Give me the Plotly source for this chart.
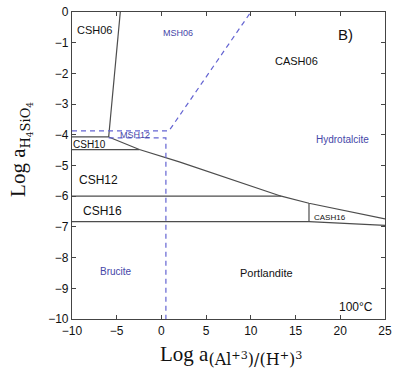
import plotly.graph_objects as go

# Solid phase boundaries (black)
csh06_x = [-4.6, -5.9]
csh06_y = [0.0, -4.07]
csh10_top_x = [-10, -5.9]
csh10_top_y = [-4.07, -4.07]
csh10_bot_x = [-10, -2.47]
csh10_bot_y = [-4.48, -4.48]
cash06_x = [-5.9, -2.47, 2.0, 13.4, 16.5, 25]
cash06_y = [-4.07, -4.48, -4.88, -6.0, -6.23, -6.74]
csh12_bot_x = [-10, 13.4]
csh12_bot_y = [-6.0, -6.0]
csh16_bot_x = [-10, 16.5, 25]
csh16_bot_y = [-6.83, -6.83, -6.95]
cash16_x = [16.5, 16.5]
cash16_y = [-6.23, -6.83]

# Dashed magnesium phase boundaries (blue)
msh06_x = [-10, 0.85, 10.0]
msh06_y = [-3.87, -3.87, 0.0]
msh12_x = [-5.9, 0.5, 0.5]
msh12_y = [-4.1, -4.1, -10.0]

# Field labels
black_labels = ["CSH06", "CASH06", "CSH10", "CSH12", "CSH16", "CASH16", "Portlandite", "100°C", "B)"]
black_lx = [-7.5, 15.1, -8.0, -7.0, -6.6, 18.8, 11.8, 21.8, 20.6]
black_ly = [-0.57, -1.6, -4.3, -5.47, -6.48, -6.68, -8.49, -9.62, -0.74]
black_ls = [11, 11, 10, 12, 12, 8, 11, 12, 15]

blue_labels = ["MSH06", "MSH12", "Hydrotalcite", "Brucite"]
blue_lx = [1.8, -2.9, 20.2, -5.1]
blue_ly = [-0.67, -4.0, -4.14, -8.44]
blue_ls = [9, 9, 10, 10]

x_ticks = [-10, -5, 0, 5, 10, 15, 20, 25]
y_ticks = [0, -1, -2, -3, -4, -5, -6, -7, -8, -9, -10]

LINE = "#4d4d4d"
BLUE_LINE = "#6464d2"
BLUE_TEXT = "#4646a8"

fig = go.Figure()

for xs, ys in [(csh06_x, csh06_y), (csh10_top_x, csh10_top_y), (csh10_bot_x, csh10_bot_y),
               (cash06_x, cash06_y), (csh12_bot_x, csh12_bot_y), (csh16_bot_x, csh16_bot_y),
               (cash16_x, cash16_y)]:
    fig.add_trace(go.Scatter(x=xs, y=ys, mode="lines",
                             line=dict(color=LINE, width=1.2), hoverinfo="skip"))

for xs, ys in [(msh06_x, msh06_y), (msh12_x, msh12_y)]:
    fig.add_trace(go.Scatter(x=xs, y=ys, mode="lines",
                             line=dict(color=BLUE_LINE, width=1.2, dash="5px,4px"),
                             hoverinfo="skip"))

annotations = []
for t, x, y, s in zip(black_labels, black_lx, black_ly, black_ls):
    annotations.append(dict(x=x, y=y, text=t, showarrow=False, xref="x", yref="y",
                            font=dict(family="Liberation Sans, Arial", size=s, color="#111")))
for t, x, y, s in zip(blue_labels, blue_lx, blue_ly, blue_ls):
    annotations.append(dict(x=x, y=y, text=t, showarrow=False, xref="x", yref="y",
                            font=dict(family="Liberation Sans, Arial", size=s, color=BLUE_TEXT)))

# Axis titles
annotations.append(dict(
    x=-0.215, y=0.553, xref="paper", yref="paper", showarrow=False, textangle=-90,
    text="Log a<sub><span style='font-family:DejaVu Serif;font-size:13px'>"
         "H<sub>4</sub>SiO<sub>4</sub></span></sub>",
    font=dict(family="Liberation Serif, DejaVu Serif", size=21, color="#111")))
annotations.append(dict(
    x=0.274, y=-0.17, xref="paper", yref="paper", showarrow=False, xanchor="left",
    text="Log a<sub><span style='font-family:DejaVu Serif;font-size:16px'>"
         "(Al<sup>+3</sup>)/(H<sup>+</sup>)<sup>3</sup></span></sub>",
    font=dict(family="Liberation Serif, DejaVu Serif", size=21, color="#111")))

axis_common = dict(showgrid=False, zeroline=False, showline=True, linecolor="#444",
                   linewidth=1.2, mirror="ticks", ticks="inside", ticklen=4,
                   tickcolor="#444", ticklabeloverflow="allow",
                   tickfont=dict(family="Liberation Sans, Arial", size=12, color="#111"))

fig.update_layout(
    width=398, height=376,
    margin=dict(l=72, r=13, t=5, b=57),
    paper_bgcolor="white", plot_bgcolor="white",
    showlegend=False,
    xaxis=dict(range=[-10, 25], tickvals=x_ticks, **axis_common),
    yaxis=dict(range=[-10, 0], tickvals=y_ticks, **axis_common),
    annotations=annotations,
)

fig.write_html("out.html")
